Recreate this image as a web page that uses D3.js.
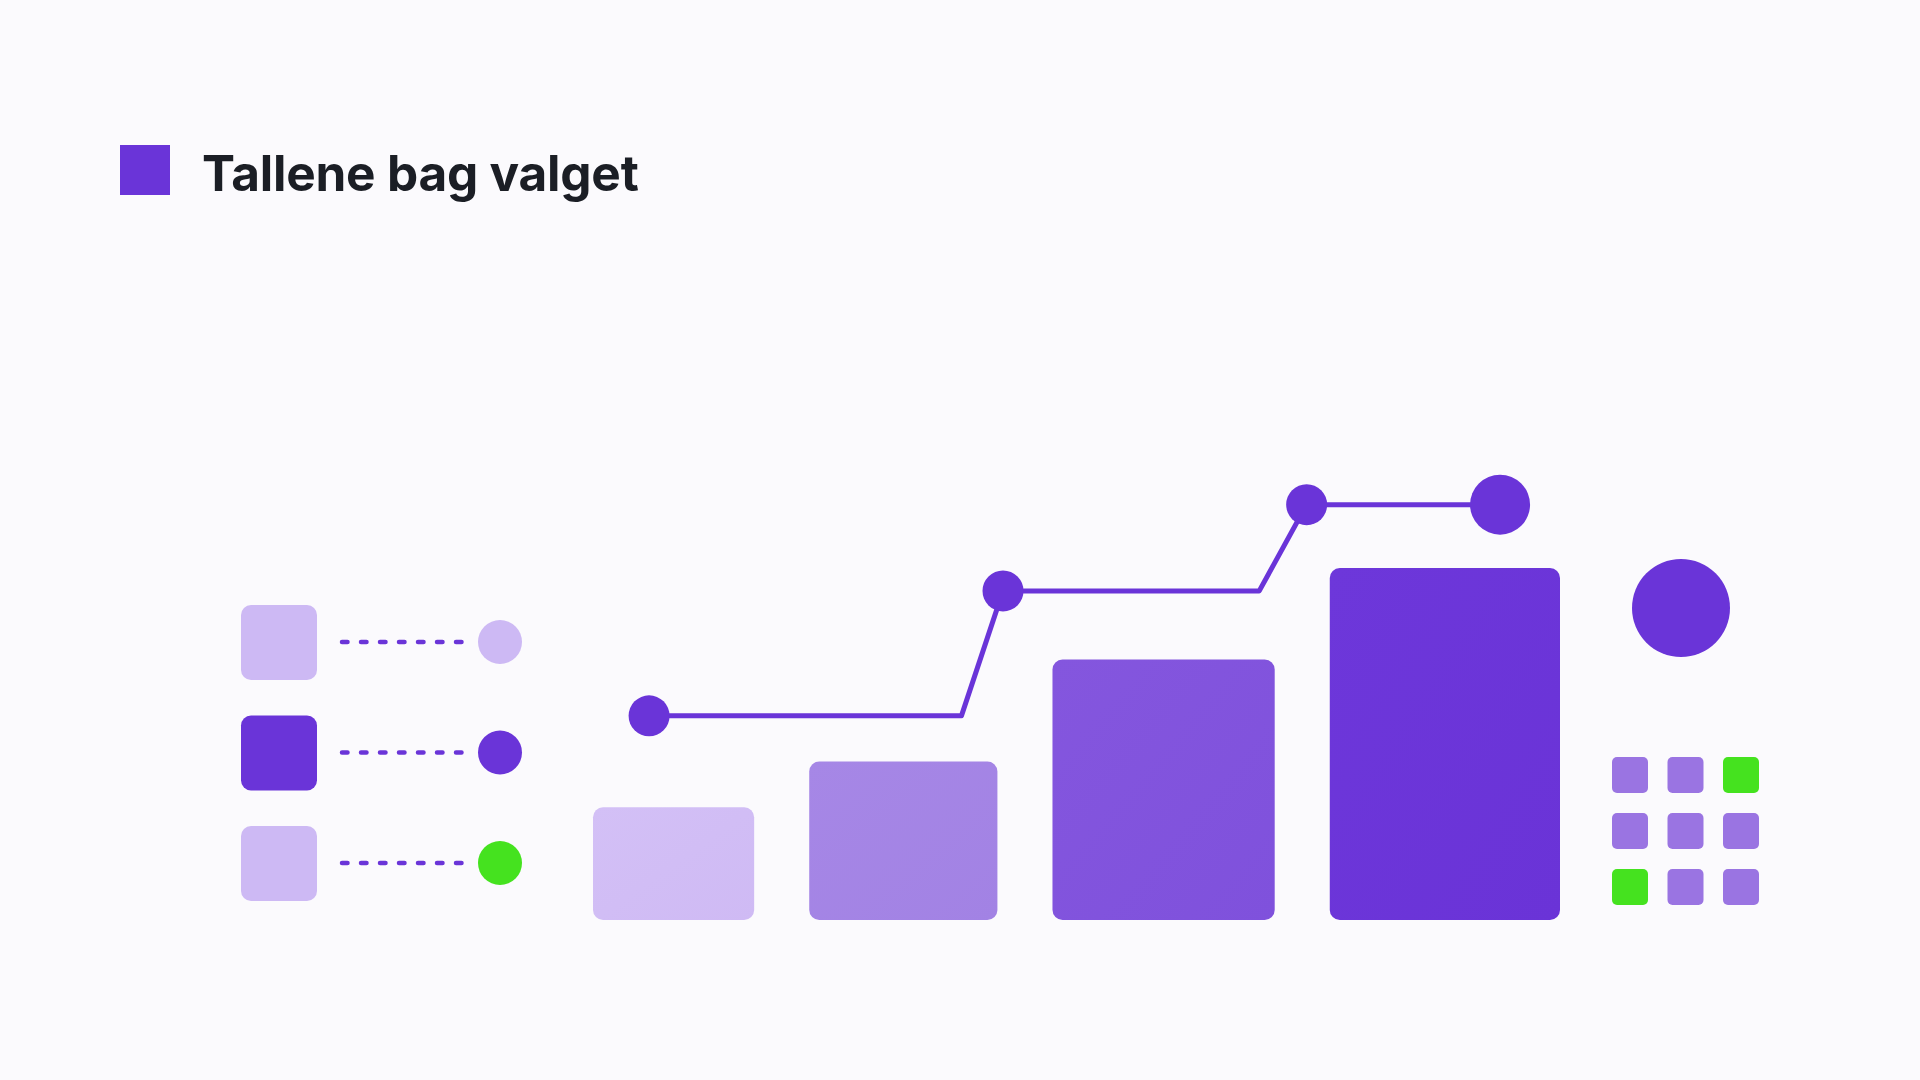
<!DOCTYPE html>
<html><head><meta charset="utf-8">
<script src="https://cdn.jsdelivr.net/npm/d3@7"></script>
<style>
html,body{margin:0;padding:0;background:#fbfafd;}
svg{display:block;}
</style></head>
<body>
<svg id="chart" width="1920" height="1080"></svg>
<script>
// ---- data ----
const title = "Tallene bag valget";
const categories = ["1", "2", "3", "4"];
const barValues = [32, 45, 74, 100];
const lineValues = [58, 93.5, 118, 118];
const legendKeys = ["a", "b", "c"];
const legendMarkerTone = ["light", "dark", "green"];
const gridCells = [0, 0, 1, 0, 0, 0, 1, 0, 0]; // 1 = highlighted

// ---- layout / style ----
const W = 1920, H = 1080;
const C = {
  bg: "#fbfafd", text: "#1b1e25", dark: "#6a34d8", light: "#cdb9f4",
  green: "#45e21f", mid: "#9a74e2",
  bars: ["#cfbaf4", "#a282e4", "#7f51dc", "#6a33d7"],
  barsTop: ["#d3c0f6", "#a687e6", "#8456de", "#6d37da"]
};
const barRel = [161, 188, 222, 230];
const gapRel = 55;
const plot = { left: 593, right: 1560, bottom: 920, top: 568 };
const linePosRel = [0.058, 0.424, 0.738, 0.938];
const lineBendRel = [null, 0.381, 0.689, 0.738];

const svg = d3.select("#chart");
svg.append("rect").attr("width", W).attr("height", H).attr("fill", C.bg);

// gradients
const defs = svg.append("defs");
C.bars.forEach((c, i) => {
  const g = defs.append("linearGradient").attr("id", "g" + i)
    .attr("x1", 0).attr("y1", 0).attr("x2", 1).attr("y2", 1);
  g.append("stop").attr("offset", "0%").attr("stop-color", C.barsTop[i]);
  g.append("stop").attr("offset", "100%").attr("stop-color", c);
});

// title
svg.append("rect").attr("x", 120).attr("y", 145).attr("width", 50).attr("height", 50).attr("fill", C.dark);
svg.append("text").attr("x", 202).attr("y", 191)
  .attr("font-family", "Inter, 'Open Sans', sans-serif").attr("font-weight", 700)
  .attr("font-size", 49.5).attr("fill", C.text).attr("letter-spacing", -0.2)
  .text(title);

// scales
const y = d3.scaleLinear().domain([0, 100]).range([plot.bottom, plot.top]);
const totalRel = d3.sum(barRel) + gapRel * (barRel.length - 1);
const xRel = d3.scaleLinear().domain([0, totalRel]).range([plot.left, plot.right]);
let acc = 0;
const barPos = barRel.map(w => { const s = acc; acc += w + gapRel; return [s, s + w]; });
const xFrac = d3.scaleLinear().domain([0, 1]).range([plot.left, plot.right]);

// bars
svg.append("g").selectAll("rect").data(categories).join("rect")
  .attr("x", (d, i) => xRel(barPos[i][0]))
  .attr("width", (d, i) => xRel(barPos[i][1]) - xRel(barPos[i][0]))
  .attr("y", (d, i) => y(barValues[i]))
  .attr("height", (d, i) => y(0) - y(barValues[i]))
  .attr("rx", 10).attr("fill", (d, i) => `url(#g${i})`);

// line
const pts = [];
lineValues.forEach((v, i) => {
  if (i > 0 && lineValues[i] !== lineValues[i - 1]) pts.push([xFrac(lineBendRel[i]), y(lineValues[i - 1])]);
  pts.push([xFrac(linePosRel[i]), y(v)]);
});
svg.append("path").attr("d", d3.line()(pts)).attr("fill", "none")
  .attr("stroke", C.dark).attr("stroke-width", 5).attr("stroke-linejoin", "round");
svg.append("g").selectAll("circle").data(lineValues).join("circle")
  .attr("cx", (d, i) => xFrac(linePosRel[i])).attr("cy", d => y(d))
  .attr("r", (d, i) => i === lineValues.length - 1 ? 30 : 20.5).attr("fill", C.dark);

// legend-like markers on left
const ly = d3.scalePoint().domain(legendKeys).range([642, 863]);
const lg = svg.append("g").selectAll("g").data(legendKeys).join("g")
  .attr("transform", d => `translate(0,${ly(d)})`);
lg.append("rect").attr("x", 241).attr("y", -37).attr("width", 76).attr("height", 75).attr("rx", 10)
  .attr("fill", (d, i) => legendMarkerTone[i] === "dark" ? C.dark : C.light);
lg.append("line").attr("x1", 342).attr("x2", 462).attr("y1", 0).attr("y2", 0)
  .attr("stroke", C.dark).attr("stroke-width", 4.5).attr("stroke-linecap", "round")
  .attr("stroke-dasharray", "5.5 13.5");
lg.append("circle").attr("cx", 500).attr("cy", 0).attr("r", 22)
  .attr("fill", (d, i) => ({ light: C.light, dark: C.dark, green: C.green })[legendMarkerTone[i]]);

// big circle
svg.append("circle").attr("cx", 1681).attr("cy", 608).attr("r", 49).attr("fill", C.dark);

// grid
svg.append("g").selectAll("rect").data(gridCells).join("rect")
  .attr("x", (d, i) => 1612 + (i % 3) * 55.5).attr("y", (d, i) => 757 + Math.floor(i / 3) * 56)
  .attr("width", 36).attr("height", 36).attr("rx", 5)
  .attr("fill", d => d ? C.green : C.mid);
</script>
</body></html>
